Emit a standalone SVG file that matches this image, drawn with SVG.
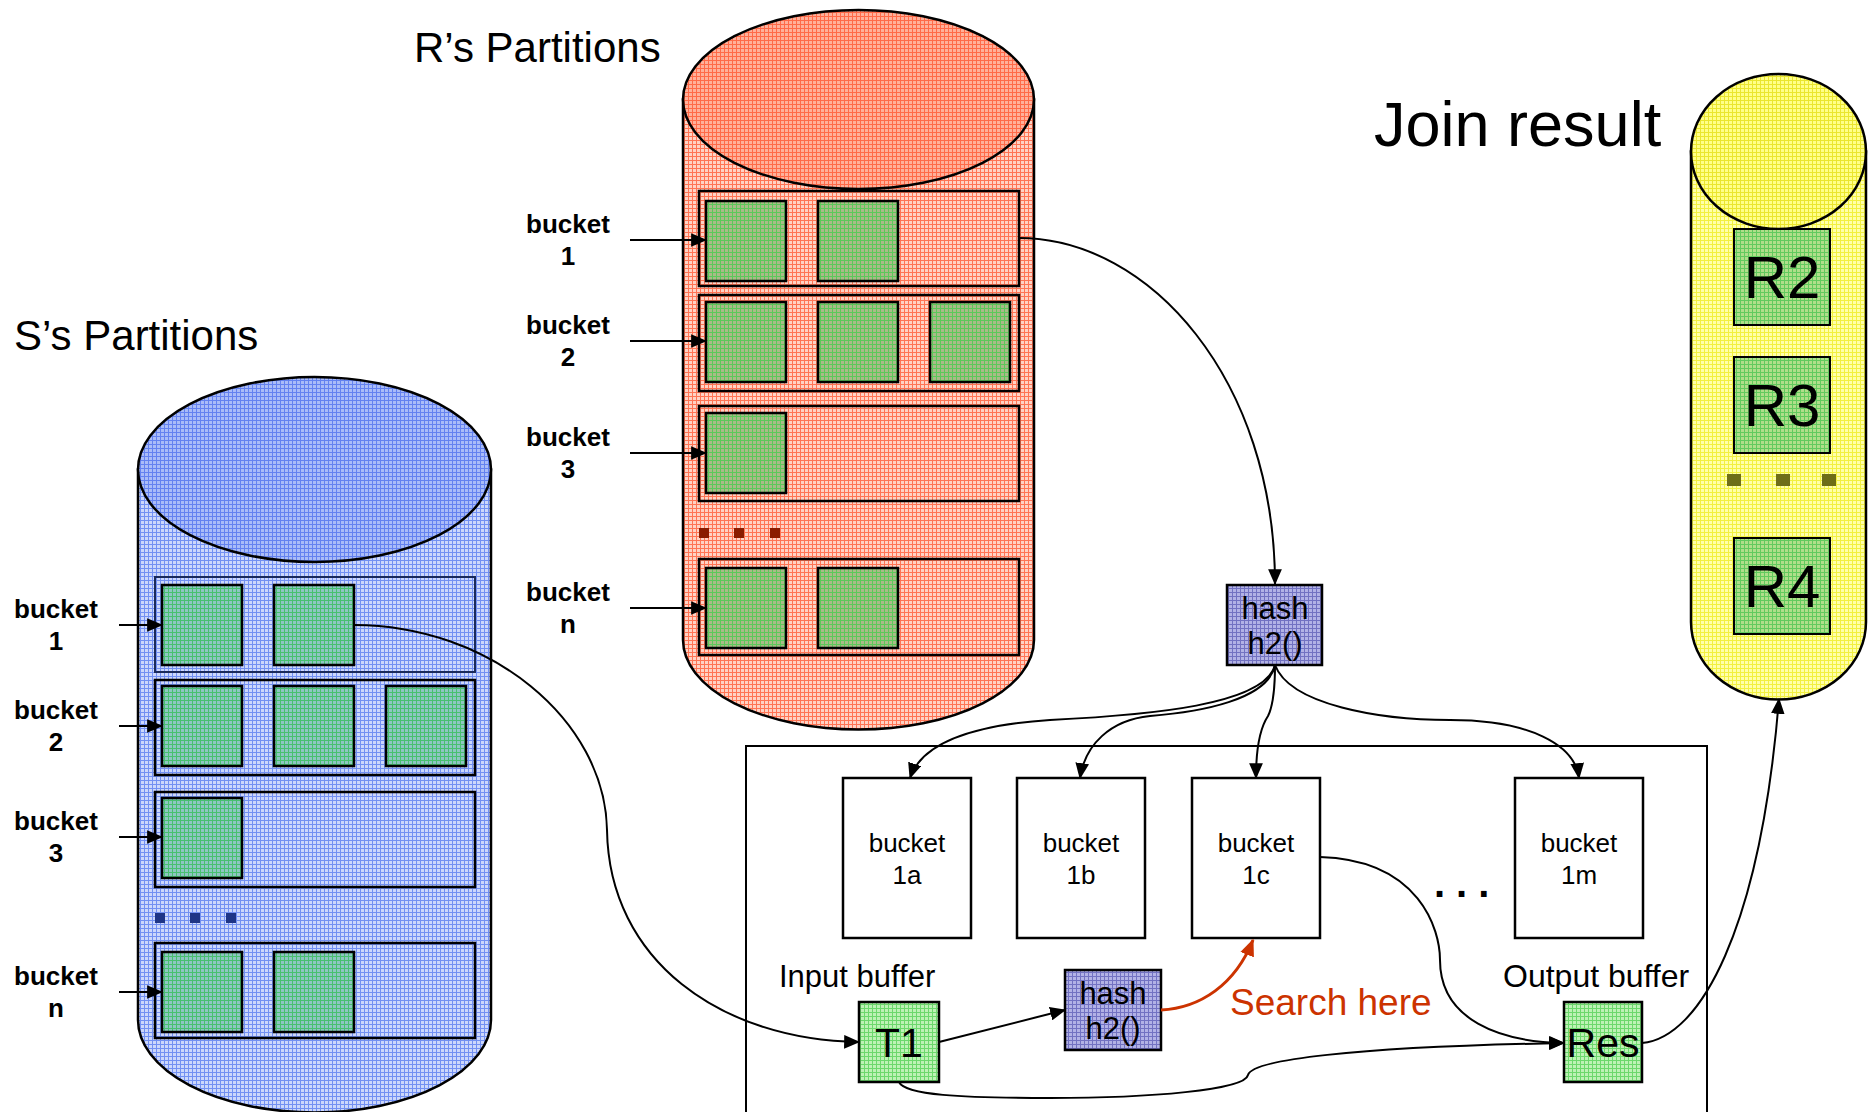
<svg xmlns="http://www.w3.org/2000/svg" width="1873" height="1112" viewBox="0 0 1873 1112">
<defs>
<pattern id="pRedBody" width="4" height="4" patternUnits="userSpaceOnUse"><rect width="4" height="4" fill="#FFD2C4"/><path d="M0,0.5H4M0.5,0V4" stroke="#FF7454" stroke-width="1"/></pattern>
<pattern id="pRedTop" width="4" height="4" patternUnits="userSpaceOnUse"><rect width="4" height="4" fill="#FFB09A"/><path d="M0,0.5H4M0.5,0V4" stroke="#FF6A48" stroke-width="1"/></pattern>
<pattern id="pBlueBody" width="4" height="4" patternUnits="userSpaceOnUse"><rect width="4" height="4" fill="#CCD7FB"/><path d="M0,0.5H4M0.5,0V4" stroke="#7290F2" stroke-width="1"/></pattern>
<pattern id="pBlueTop" width="4" height="4" patternUnits="userSpaceOnUse"><rect width="4" height="4" fill="#AABCF8"/><path d="M0,0.5H4M0.5,0V4" stroke="#6482F0" stroke-width="1"/></pattern>
<pattern id="pGreenR" width="4" height="4" patternUnits="userSpaceOnUse"><rect width="4" height="4" fill="#AABA88"/><path d="M0,0.5H4M0.5,0V4" stroke="#5CC85A" stroke-width="1"/></pattern>
<pattern id="pGreenB" width="4" height="4" patternUnits="userSpaceOnUse"><rect width="4" height="4" fill="#8EC6C2"/><path d="M0,0.5H4M0.5,0V4" stroke="#48C070" stroke-width="1"/></pattern>
<pattern id="pGreenL" width="4" height="4" patternUnits="userSpaceOnUse"><rect width="4" height="4" fill="#BDF2B5"/><path d="M0,0.5H4M0.5,0V4" stroke="#6CD86C" stroke-width="1"/></pattern>
<pattern id="pGreenY" width="4" height="4" patternUnits="userSpaceOnUse"><rect width="4" height="4" fill="#B0DE8A"/><path d="M0,0.5H4M0.5,0V4" stroke="#62CA5E" stroke-width="1"/></pattern>
<pattern id="pHash" width="4" height="4" patternUnits="userSpaceOnUse"><rect width="4" height="4" fill="#B2B2E6"/><path d="M0,0.5H4M0.5,0V4" stroke="#7272C2" stroke-width="1"/></pattern>
<pattern id="pYelBody" width="4" height="4" patternUnits="userSpaceOnUse"><rect width="4" height="4" fill="#FFFFAA"/><path d="M0,0.5H4M0.5,0V4" stroke="#F2F040" stroke-width="1"/></pattern>
<pattern id="pYelTop" width="4" height="4" patternUnits="userSpaceOnUse"><rect width="4" height="4" fill="#FFFF88"/><path d="M0,0.5H4M0.5,0V4" stroke="#EAE62E" stroke-width="1"/></pattern>
<marker id="ah" viewBox="0 0 14 12" refX="13" refY="6" markerWidth="16" markerHeight="14" markerUnits="userSpaceOnUse" orient="auto"><path d="M0,0L14,6L0,12Z" fill="#000"/></marker>
<marker id="ahr" viewBox="0 0 14 12" refX="13" refY="6" markerWidth="17" markerHeight="15" markerUnits="userSpaceOnUse" orient="auto"><path d="M0,0L14,6L0,12Z" fill="#CC3300"/></marker>
</defs>
<style>
.ol{stroke:#000;stroke-width:2.5}
.row{fill:none;stroke:#000;stroke-width:2.5}
.gr{fill:url(#pGreenR);stroke:#000;stroke-width:2.5}
.gb{fill:url(#pGreenB);stroke:#000;stroke-width:2.5}
.gy{fill:url(#pGreenY);stroke:#000;stroke-width:2}
.gl{fill:url(#pGreenL);stroke:#000;stroke-width:2.5}
.hs{fill:url(#pHash);stroke:#000;stroke-width:2.5}
.bk{fill:#fff;stroke:#000;stroke-width:2.5}
.lbl{font-family:"Liberation Sans",Arial,sans-serif;font-weight:bold;font-size:26px;text-anchor:middle;fill:#000}
.t{font-family:"Liberation Sans",Arial,sans-serif;fill:#000}
.c{text-anchor:middle}
.conn path,.conn line{fill:none;stroke:#000;stroke-width:2}
</style>
<rect width="1873" height="1112" fill="#fff"/>

<g id="r-partitions">
<text class="t" x="414" y="62" font-size="42">R’s Partitions</text>
<path class="ol" fill="url(#pRedBody)" d="M683,99.5 V640 A175.5,89.5 0 0 0 1034,640 V99.5 Z"/>
<ellipse class="ol" fill="url(#pRedTop)" cx="858.5" cy="99.5" rx="175.5" ry="89.5"/>
<rect class="row" x="699" y="191" width="320" height="95"/>
<rect class="gr" x="706" y="201" width="80" height="80"/>
<rect class="gr" x="818" y="201" width="80" height="80"/>
<rect class="row" x="699" y="295" width="320" height="96"/>
<rect class="gr" x="706" y="302" width="80" height="80"/>
<rect class="gr" x="818" y="302" width="80" height="80"/>
<rect class="gr" x="930" y="302" width="80" height="80"/>
<rect class="row" x="699" y="406" width="320" height="95"/>
<rect class="gr" x="706" y="413" width="80" height="80"/>
<rect x="699" y="528" width="10" height="10" fill="#8A1C00"/>
<rect x="734" y="528" width="10" height="10" fill="#8A1C00"/>
<rect x="770" y="528" width="10" height="10" fill="#8A1C00"/>
<rect class="row" x="699" y="559" width="320" height="96"/>
<rect class="gr" x="706" y="568" width="80" height="80"/>
<rect class="gr" x="818" y="568" width="80" height="80"/>
<text class="lbl" x="568" y="233">bucket</text><text class="lbl" x="568" y="265">1</text>
<text class="lbl" x="568" y="334">bucket</text><text class="lbl" x="568" y="366">2</text>
<text class="lbl" x="568" y="446">bucket</text><text class="lbl" x="568" y="478">3</text>
<text class="lbl" x="568" y="601">bucket</text><text class="lbl" x="568" y="633">n</text>
</g>

<g id="s-partitions">
<text class="t" x="14" y="350" font-size="42">S’s Partitions</text>
<path class="ol" fill="url(#pBlueBody)" d="M138,469.5 V1020 A176.5,92.5 0 0 0 491,1020 V469.5 Z"/>
<ellipse class="ol" fill="url(#pBlueTop)" cx="314.5" cy="469.5" rx="176.5" ry="92.5"/>
<rect x="155" y="577" width="320" height="95" fill="none" stroke="#1A2A5A" stroke-width="2"/>
<rect class="gb" x="162" y="585" width="80" height="80"/>
<rect class="gb" x="274" y="585" width="80" height="80"/>
<rect class="row" x="155" y="680" width="320" height="95"/>
<rect class="gb" x="162" y="686" width="80" height="80"/>
<rect class="gb" x="274" y="686" width="80" height="80"/>
<rect class="gb" x="386" y="686" width="80" height="80"/>
<rect class="row" x="155" y="792" width="320" height="95"/>
<rect class="gb" x="162" y="798" width="80" height="80"/>
<rect x="155" y="913" width="10" height="10" fill="#1F3586"/>
<rect x="190" y="913" width="10" height="10" fill="#1F3586"/>
<rect x="226" y="913" width="10" height="10" fill="#1F3586"/>
<rect class="row" x="155" y="943" width="320" height="95"/>
<rect class="gb" x="162" y="952" width="80" height="80"/>
<rect class="gb" x="274" y="952" width="80" height="80"/>
<text class="lbl" x="56" y="618">bucket</text><text class="lbl" x="56" y="650">1</text>
<text class="lbl" x="56" y="719">bucket</text><text class="lbl" x="56" y="751">2</text>
<text class="lbl" x="56" y="830">bucket</text><text class="lbl" x="56" y="862">3</text>
<text class="lbl" x="56" y="985">bucket</text><text class="lbl" x="56" y="1017">n</text>
</g>

<g id="join-result">
<text class="t" x="1374" y="146" font-size="63">Join result</text>
<path class="ol" fill="url(#pYelBody)" d="M1691,151.5 V622 A87.5,77.5 0 0 0 1866,622 V151.5 Z"/>
<ellipse class="ol" fill="url(#pYelTop)" cx="1778.5" cy="151.5" rx="87.5" ry="77.5"/>
<rect class="gy" x="1734" y="229" width="96" height="96"/>
<text class="t c" x="1782" y="298" font-size="60">R2</text>
<rect class="gy" x="1734" y="357" width="96" height="96"/>
<text class="t c" x="1782" y="426" font-size="60">R3</text>
<rect x="1727" y="474" width="14" height="12" fill="#6E6E18"/>
<rect x="1776" y="474" width="14" height="12" fill="#6E6E18"/>
<rect x="1822" y="474" width="14" height="12" fill="#6E6E18"/>
<rect class="gy" x="1734" y="538" width="96" height="96"/>
<text class="t c" x="1782" y="607" font-size="60">R4</text>
</g>

<g id="memory">
<rect x="746" y="746" width="961" height="420" fill="none" stroke="#000" stroke-width="2"/>
</g>

<g id="hash-top">
<rect class="hs" x="1227" y="585" width="95" height="80"/>
<text class="t c" x="1275" y="619" font-size="31">hash</text>
<text class="t c" x="1275" y="654" font-size="31">h2()</text>
</g>

<g id="bucket-1a"><rect class="bk" x="843" y="778" width="128" height="160"/>
<text class="t c" x="907" y="852" font-size="26">bucket</text><text class="t c" x="907" y="884" font-size="26">1a</text></g>
<g id="bucket-1b"><rect class="bk" x="1017" y="778" width="128" height="160"/>
<text class="t c" x="1081" y="852" font-size="26">bucket</text><text class="t c" x="1081" y="884" font-size="26">1b</text></g>
<g id="bucket-1c"><rect class="bk" x="1192" y="778" width="128" height="160"/>
<text class="t c" x="1256" y="852" font-size="26">bucket</text><text class="t c" x="1256" y="884" font-size="26">1c</text></g>
<g id="bucket-1m"><rect class="bk" x="1515" y="778" width="128" height="160"/>
<text class="t c" x="1579" y="852" font-size="26">bucket</text><text class="t c" x="1579" y="884" font-size="26">1m</text></g>
<g id="ellipsis"><text class="t" x="1434" y="897" font-size="40" font-weight="bold" letter-spacing="11">...</text></g>

<g id="input-buffer">
<text class="t" x="779" y="987" font-size="31">Input buffer</text>
<rect class="gl" x="859" y="1002" width="80" height="80"/>
<text class="t c" x="899" y="1057" font-size="41">T1</text>
</g>
<g id="hash-bottom">
<rect class="hs" x="1065" y="970" width="96" height="80"/>
<text class="t c" x="1113" y="1004" font-size="31">hash</text>
<text class="t c" x="1113" y="1039" font-size="31">h2()</text>
</g>
<g id="search-label"><text class="t" x="1230" y="1015" font-size="37" style="fill:#CC3300">Search here</text></g>
<g id="output-buffer">
<text class="t" x="1503" y="987" font-size="32">Output buffer</text>
<rect class="gl" x="1564" y="1002" width="78" height="80"/>
<text class="t c" x="1603" y="1057" font-size="41">Res</text>
</g>

<g id="connectors" class="conn">
<line x1="630" y1="240" x2="706" y2="240" marker-end="url(#ah)"/>
<line x1="630" y1="341" x2="706" y2="341" marker-end="url(#ah)"/>
<line x1="630" y1="453" x2="706" y2="453" marker-end="url(#ah)"/>
<line x1="630" y1="608" x2="706" y2="608" marker-end="url(#ah)"/>
<line x1="119" y1="625" x2="162" y2="625" marker-end="url(#ah)"/>
<line x1="119" y1="726" x2="162" y2="726" marker-end="url(#ah)"/>
<line x1="119" y1="837" x2="162" y2="837" marker-end="url(#ah)"/>
<line x1="119" y1="992" x2="162" y2="992" marker-end="url(#ah)"/>
<path d="M1019,238 C1150,238 1275,380 1275,584" marker-end="url(#ah)"/>
<path d="M1275,665 C1265,705 1150,715 1050,720 C960,726 920,748 910,778" marker-end="url(#ah)"/>
<path d="M1275,665 C1268,700 1200,712 1150,716 C1110,720 1085,745 1080,778" marker-end="url(#ah)"/>
<path d="M1275,665 C1275,690 1272,708 1268,716 C1260,728 1256,750 1256,778" marker-end="url(#ah)"/>
<path d="M1275,665 C1290,705 1380,720 1450,720 C1530,720 1575,745 1579,778" marker-end="url(#ah)"/>
<path d="M354,625 C490,625 605,720 607,830 C609,960 720,1040 859,1042" marker-end="url(#ah)"/>
<line x1="939" y1="1042" x2="1065" y2="1010" marker-end="url(#ah)"/>
<path d="M1161,1010 C1200,1008 1235,985 1253,940" style="stroke:#CC3300;stroke-width:3" marker-end="url(#ahr)"/>
<path d="M1320,857 C1420,860 1440,930 1440,960 C1440,1020 1500,1042 1564,1043" marker-end="url(#ah)"/>
<path d="M899,1082 C905,1095 960,1098 1050,1098 C1150,1098 1245,1090 1248,1075 C1252,1060 1350,1047 1564,1043" marker-end="url(#ah)"/>
<path d="M1642,1043 C1700,1038 1760,930 1779,699" marker-end="url(#ah)"/>
</g>
</svg>
